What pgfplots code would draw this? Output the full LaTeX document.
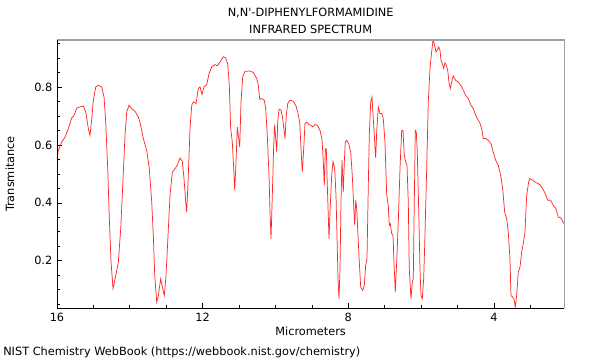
\documentclass[border=0pt]{standalone}
\usepackage{pgfplots}
\pgfplotsset{compat=1.18}
\usepackage{fontspec}
\setmainfont{DejaVu Sans}
\newfontfamily\plainfont{DejaVu Sans}
\definecolor{spec}{RGB}{255,40,40}
\definecolor{frame}{RGB}{160,160,160}
\pgfplotstableread{
x y
16.0 0.553
15.963 0.581
15.870 0.610
15.779 0.627
15.689 0.656
15.595 0.693
15.532 0.702
15.458 0.727
15.367 0.731
15.277 0.734
15.211 0.714
15.139 0.656
15.093 0.633
15.046 0.690
15.002 0.754
14.936 0.800
14.865 0.806
14.772 0.800
14.708 0.765
14.662 0.679
14.607 0.518
14.563 0.345
14.516 0.195
14.461 0.104
14.387 0.149
14.316 0.195
14.250 0.311
14.195 0.460
14.132 0.633
14.085 0.714
14.022 0.737
13.948 0.725
13.857 0.716
13.766 0.696
13.720 0.677
13.629 0.622
13.536 0.581
13.465 0.518
13.399 0.403
13.355 0.288
13.316 0.149
13.261 0.057
13.217 0.080
13.152 0.138
13.097 0.104
13.053 0.080
13.006 0.149
12.951 0.288
12.896 0.426
12.833 0.506
12.759 0.518
12.696 0.530
12.622 0.555
12.558 0.543
12.512 0.484
12.465 0.403
12.438 0.368
12.394 0.495
12.347 0.656
12.300 0.737
12.256 0.748
12.182 0.743
12.119 0.795
12.072 0.800
12.017 0.774
11.963 0.800
11.888 0.808
11.825 0.846
11.751 0.869
11.661 0.877
11.597 0.873
11.523 0.886
11.433 0.904
11.367 0.900
11.312 0.880
11.268 0.806
11.230 0.656
11.186 0.610
11.147 0.518
11.120 0.443
11.084 0.541
11.048 0.662
11.021 0.633
10.982 0.593
10.947 0.748
10.900 0.835
10.837 0.854
10.700 0.855
10.609 0.850
10.516 0.829
10.472 0.806
10.433 0.757
10.378 0.760
10.307 0.754
10.269 0.725
10.225 0.633
10.178 0.495
10.150 0.368
10.123 0.276
10.087 0.426
10.049 0.599
10.021 0.670
9.994 0.622
9.966 0.575
9.939 0.679
9.903 0.723
9.848 0.720
9.802 0.691
9.766 0.650
9.739 0.622
9.703 0.702
9.664 0.743
9.601 0.754
9.511 0.751
9.445 0.737
9.390 0.714
9.335 0.679
9.299 0.587
9.264 0.506
9.225 0.587
9.189 0.674
9.143 0.679
9.080 0.670
9.025 0.668
8.978 0.662
8.915 0.670
8.852 0.668
8.778 0.650
8.723 0.622
8.687 0.541
8.659 0.460
8.632 0.587
8.605 0.587
8.577 0.460
8.550 0.357
8.530 0.276
8.495 0.391
8.456 0.495
8.421 0.543
8.374 0.518
8.338 0.426
8.311 0.288
8.283 0.138
8.256 0.069
8.228 0.173
8.201 0.403
8.173 0.547
8.154 0.484
8.138 0.437
8.110 0.541
8.083 0.610
8.044 0.616
7.990 0.604
7.935 0.575
7.891 0.495
7.852 0.391
7.825 0.322
7.797 0.409
7.770 0.380
7.734 0.288
7.698 0.195
7.660 0.109
7.605 0.098
7.561 0.115
7.523 0.184
7.487 0.207
7.451 0.460
7.424 0.633
7.385 0.748
7.350 0.765
7.314 0.691
7.276 0.610
7.248 0.555
7.221 0.645
7.177 0.731
7.130 0.708
7.083 0.708
7.040 0.691
6.993 0.610
6.946 0.426
6.902 0.391
6.875 0.322
6.847 0.328
6.809 0.294
6.773 0.288
6.746 0.195
6.710 0.092
6.672 0.195
6.628 0.334
6.581 0.518
6.534 0.650
6.499 0.650
6.463 0.564
6.424 0.541
6.389 0.530
6.353 0.403
6.326 0.173
6.279 0.069
6.243 0.126
6.216 0.138
6.188 0.403
6.161 0.650
6.133 0.645
6.106 0.575
6.068 0.380
6.032 0.173
6.004 0.080
5.969 0.069
5.930 0.138
5.895 0.288
5.848 0.518
5.804 0.748
5.757 0.864
5.711 0.921
5.675 0.961
5.639 0.950
5.593 0.921
5.557 0.927
5.518 0.938
5.483 0.927
5.455 0.892
5.420 0.881
5.381 0.864
5.345 0.884
5.310 0.875
5.271 0.858
5.236 0.817
5.200 0.794
5.161 0.817
5.118 0.838
5.052 0.823
4.980 0.817
4.914 0.806
4.843 0.789
4.777 0.771
4.706 0.760
4.632 0.737
4.568 0.725
4.502 0.702
4.431 0.685
4.384 0.675
4.338 0.656
4.294 0.622
4.228 0.622
4.157 0.616
4.082 0.604
4.019 0.575
3.953 0.547
3.882 0.530
3.816 0.495
3.761 0.449
3.706 0.368
3.651 0.345
3.607 0.299
3.561 0.207
3.533 0.080
3.487 0.075
3.451 0.069
3.415 0.040
3.377 0.080
3.333 0.161
3.286 0.178
3.239 0.230
3.196 0.259
3.149 0.299
3.102 0.426
3.047 0.472
3.012 0.484
2.937 0.478
2.847 0.470
2.737 0.463
2.663 0.449
2.591 0.432
2.526 0.409
2.443 0.409
2.372 0.391
2.298 0.380
2.234 0.351
2.160 0.348
2.097 0.332
2.070 0.328
}\spectrum
\begin{document}
\begin{tikzpicture}
\begin{axis}[
  name=ax,
  scale only axis,
  width=380.4pt, height=201pt,
  x dir=reverse,
  xmin=2.07, xmax=16,
  ymin=0.037, ymax=0.962,
  xtick={4,8,12,16},
  minor xtick={3,5,6,7,9,10,11,13,14,15},
  ytick={0.2,0.4,0.6,0.8},
  minor ytick={0.05,0.1,0.15,0.25,0.3,0.35,0.45,0.5,0.55,0.65,0.7,0.75,0.85,0.9,0.95},
  yticklabel style={/pgf/number format/.cd,fixed,fixed zerofill,precision=1},
  /pgf/number format/assume math mode=true,
  tick align=inside,
  xtick pos=bottom, ytick pos=left,
  major tick length=4pt, minor tick length=2.2pt,
  tick style={black, line width=0.5pt},
  axis line style={draw=none},
  font=\fontsize{8.5pt}{10pt}\selectfont,
  ticklabel style={font=\fontsize{8.5pt}{10pt}\selectfont},
  xlabel={Micrometers},
  ylabel={Transmitance},
  every axis x label/.style={at={(axis description cs:0.5,-0.085)}, anchor=center},
  every axis y label/.style={at={(axis description cs:-0.093,0.5)}, anchor=center, rotate=90},
  clip=true,
]
\addplot[spec, line width=0.55pt] table[x=x,y=y] {\spectrum};
\end{axis}
\draw[frame, line width=1pt] (ax.south east) -- (ax.north east) -- (ax.north west);
\draw[black, line width=0.6pt] (ax.north west) -- (ax.south west) -- (ax.south east);
\node[align=center, font=\plainfont\fontsize{8.5pt}{12.8pt}\selectfont, anchor=center] at ([yshift=14.5pt]ax.north) {N,N'-DIPHENYLFORMAMIDINE\\INFRARED SPECTRUM};
\node[anchor=west, font=\fontsize{8.5pt}{10pt}\selectfont, inner sep=0pt] at ([xshift=-40.5pt,yshift=-33.2pt]ax.south west) {NIST Chemistry WebBook (https://webbook.nist.gov/chemistry)};
\path ([shift={(-42.75pt,-39.2pt)}]ax.south west) rectangle ([shift={(26.8pt,30pt)}]ax.north east);
\end{tikzpicture}
\end{document}
